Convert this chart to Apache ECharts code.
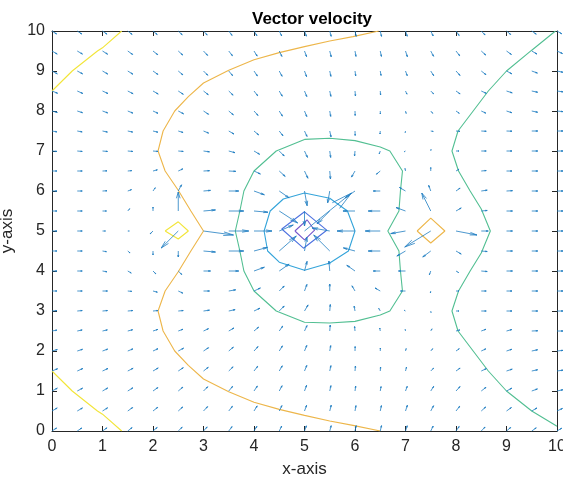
<!DOCTYPE html>
<html>
<head>
<meta charset="utf-8">
<script src="https://cdn.jsdelivr.net/npm/echarts@6/dist/echarts.min.js"></script>
<style>
  html, body { margin: 0; padding: 0; background: #fff; }
  #chart { width: 563px; height: 479px; }
</style>
</head>
<body>
<div id="chart"></div>
<script>
// grid positions (0:0.5:10 on both axes)
var gridX = [0,0.5,1,1.5,2,2.5,3,3.5,4,4.5,5,5.5,6,6.5,7,7.5,8,8.5,9,9.5,10];
var gridY = [0,0.5,1,1.5,2,2.5,3,3.5,4,4.5,5,5.5,6,6.5,7,7.5,8,8.5,9,9.5,10];
var tickVals = [0,1,2,3,4,5,6,7,8,9,10];

// arrow components as drawn (data units), one row per y value, bottom to top
var U = [
  [.091,.090,.089,.086,.083,.078,.073,.066,.058,.048,.037,.028,.023,.025,.034,.048,.063,.076,.083,.089,.094],
  [.103,.103,.101,.097,.094,.088,.081,.073,.063,.052,.041,.029,.019,.023,.037,.056,.073,.088,.097,.103,.108],
  [.105,.105,.103,.101,.097,.091,.084,.076,.067,.056,.041,.023,.014,.016,.034,.058,.080,.094,.105,.112,.116],
  [.110,.109,.108,.106,.103,.100,.094,.086,.073,.060,.045,.023,.009,.007,.020,.056,.081,.099,.113,.116,.118],
  [.105,.104,.102,.101,.099,.105,.100,.091,.080,.063,.045,.019,.003,.002,.013,.038,.065,.090,.104,.116,.118],
  [.097,.097,.096,.096,.094,.093,.099,.103,.091,.068,.050,.010,-.008,-.010,-.005,.025,.076,.093,.105,.119,.119],
  [.099,.099,.099,.099,.099,.099,.118,.126,.117,.098,.070,.011,-.017,-.030,-.026,.005,.059,.099,.109,.119,.119],
  [.099,.099,.099,.079,.086,.090,.119,.137,.126,.098,.048,0,-.059,-.103,-.099,-.007,.059,.099,.109,.119,.119],
  [.099,.099,.088,.069,.056,.070,.139,.198,.205,.195,.051,-.017,-.162,-.139,-.139,-.027,.051,.118,.119,.119,.119],
  [.099,.099,.078,.045,0,0,.237,.297,.267,.337,.048,-.317,-.230,-.238,-.171,-.158,.103,.118,.119,.119,.119],
  [.099,.099,.059,.030,-.056,-.337,.594,.396,.356,.277,.930,-.351,-.356,-.297,-.293,-.515,.416,.139,.119,.119,.119],
  [.099,.099,.079,.038,0,0,.237,.297,.276,.365,0,-.252,-.238,-.238,-.186,-.178,.103,.118,.119,.119,.119],
  [.099,.099,.089,.074,.045,.065,.138,.198,.205,.195,.052,-.041,-.195,-.139,-.120,-.041,.081,.118,.119,.119,.119],
  [.099,.099,.089,.079,.086,.090,.119,.139,.126,.117,.067,.014,-.069,-.076,-.009,0,.060,.099,.109,.119,.119],
  [.099,.099,.099,.099,.099,.099,.118,.124,.111,.098,.059,.018,-.009,-.020,-.026,.005,.059,.099,.109,.119,.119],
  [.097,.097,.097,.097,.096,.095,.101,.103,.091,.073,.050,.025,.003,-.005,-.005,.049,.079,.099,.109,.119,.119],
  [.105,.104,.102,.101,.099,.105,.100,.091,.080,.063,.045,.019,.003,.002,.013,.038,.065,.090,.104,.116,.118],
  [.110,.109,.108,.106,.103,.100,.094,.086,.073,.060,.045,.023,.009,.007,.029,.056,.081,.099,.113,.116,.118],
  [.105,.105,.103,.101,.097,.091,.084,.076,.067,.056,.041,.023,.014,.016,.034,.058,.080,.094,.105,.112,.116],
  [.103,.103,.101,.097,.094,.088,.081,.073,.063,.052,.041,.029,.019,.023,.037,.056,.073,.088,.097,.103,.108],
  [.091,.090,.089,.086,.083,.078,.073,.066,.058,.048,.037,.028,.023,.025,.034,.048,.063,.076,.083,.089,.094]
];
var V = [
  [.075,.075,.079,.085,.088,.095,.102,.110,.117,.124,.129,.133,.134,.134,.131,.124,.113,.099,.088,.079,.069],
  [.075,.075,.079,.086,.092,.100,.110,.118,.127,.135,.141,.146,.135,.135,.143,.132,.118,.100,.086,.075,.063],
  [.070,.070,.075,.079,.086,.096,.106,.115,.124,.132,.141,.134,.124,.111,.117,.117,.111,.092,.070,.051,.031],
  [.056,.061,.063,.068,.075,.082,.092,.104,.118,.130,.139,.134,.125,.100,.097,.071,.072,.058,.046,.031,.021],
  [.036,.042,.047,.052,.058,.070,.082,.096,.111,.127,.139,.135,.112,.075,.060,.057,.057,.053,.042,.031,.016],
  [.022,.026,.028,.032,.039,.043,.058,.075,.096,.123,.136,.149,.112,.074,.037,.054,.026,.043,.036,.006,0],
  [.011,.011,.011,.011,.011,.011,.021,.034,.069,.124,.152,.162,.123,.065,.019,-.037,0,0,0,0,0],
  [0,0,0,-.009,-.029,-.053,0,.030,.074,.124,.164,.175,.130,.075,0,-.049,0,0,0,0,0],
  [0,0,-.020,-.050,-.071,-.088,0,0,.094,.172,.241,.249,.143,0,0,-.094,-.038,-.013,0,0,0],
  [0,0,-.017,-.048,-.100,-.150,-.026,0,.091,.375,.345,.400,.078,0,-.125,-.150,-.075,-.013,0,0,0],
  [0,0,0,0,-.071,-.425,-.100,0,0,.150,.950,.077,0,0,-.065,-.400,-.100,0,0,0,0],
  [0,0,0,.057,.100,.475,.026,0,-.031,-.300,-.375,-.318,0,0,.086,.450,.075,.013,0,0,0],
  [0,0,.006,.034,.082,.155,.015,0,-.094,-.172,-.369,-.295,-.172,0,.088,.141,.072,.021,.008,0,0],
  [0,0,.004,.009,.029,.053,.008,-.009,-.074,-.134,-.181,-.199,-.152,-.080,.062,.088,.044,.011,0,0,0],
  [-.011,-.011,-.011,-.011,-.011,-.011,-.021,-.042,-.081,-.124,-.159,-.161,-.125,-.070,-.019,.037,0,0,0,0,0],
  [-.022,-.022,-.026,-.026,-.030,-.037,-.052,-.075,-.096,-.118,-.136,-.147,-.112,-.075,-.037,-.011,-.009,-.007,-.005,0,0],
  [-.036,-.042,-.047,-.052,-.058,-.070,-.082,-.096,-.111,-.127,-.139,-.135,-.112,-.075,-.060,-.057,-.057,-.053,-.042,-.031,-.016],
  [-.056,-.061,-.063,-.068,-.075,-.082,-.092,-.104,-.118,-.130,-.139,-.134,-.125,-.100,-.079,-.071,-.072,-.058,-.046,-.031,-.021],
  [-.070,-.070,-.075,-.079,-.086,-.096,-.106,-.115,-.124,-.132,-.141,-.134,-.124,-.111,-.117,-.117,-.111,-.092,-.070,-.051,-.031],
  [-.075,-.075,-.079,-.086,-.092,-.100,-.110,-.118,-.127,-.135,-.141,-.146,-.135,-.135,-.143,-.132,-.118,-.100,-.086,-.075,-.063],
  [-.075,-.075,-.079,-.085,-.088,-.095,-.102,-.110,-.117,-.124,-.129,-.133,-.134,-.134,-.131,-.124,-.113,-.099,-.088,-.079,-.069]
];

// contour lines
var yellowTop = [[0,8.5],[0.4,9.0],[0.5,9.1],[0.9,9.5],[1.0,9.58],[1.38,10]];
var yellowBottom = [[0,1.5],[0.4,1.0],[0.5,0.9],[0.9,0.5],[1.0,0.42],[1.38,0]];
var yellowLoop = [[2.24,5.0],[2.5,5.23],[2.7,5.0],[2.5,4.8],[2.24,5.0]];
var orangeCurve = [[6.47,10],[5.96,9.86],[5.5,9.75],[5.0,9.61],[4.5,9.46],[4.0,9.28],[3.5,9.02],[3.0,8.7],
  [2.7,8.36],[2.43,8.0],[2.2,7.5],[2.1,7.0],[2.24,6.5],[2.5,6.02],[2.75,5.5],[3.0,5.0],[2.75,4.5],[2.5,3.98],
  [2.24,3.5],[2.1,3.0],[2.2,2.5],[2.43,2.0],[2.7,1.64],[3.0,1.3],[3.5,0.98],[4.0,0.72],[4.5,0.54],[5.0,0.39],
  [5.5,0.25],[5.96,0.14],[6.5,0]];
var orangeLoop = [[7.23,5.0],[7.5,5.32],[7.78,5.0],[7.5,4.7],[7.23,5.0]];
var greenRight = [[9.97,10],[9.5,9.52],[9.0,9.0],[8.64,8.5],[8.34,8.0],[8.04,7.5],[7.92,7.0],[8.05,6.5],[8.28,6.0],
  [8.5,5.55],[8.68,5.0],[8.5,4.45],[8.28,4.0],[8.05,3.5],[7.92,3.0],[8.04,2.5],[8.34,2.0],[8.64,1.5],[9.0,1.0],
  [9.5,0.5],[10,0.12]];
var greenLoop = [[5.0,7.29],[5.5,7.32],[6.0,7.26],[6.5,7.1],[6.69,7.0],[6.94,6.5],[6.9,6.0],[6.87,5.5],[6.65,5.0],
  [6.87,4.5],[6.9,4.0],[6.94,3.5],[6.69,3.0],[6.5,2.9],[6.0,2.74],[5.5,2.7],[5.0,2.72],[4.44,3.0],[4.0,3.5],
  [3.8,4.0],[3.72,4.5],[3.63,5.0],[3.72,5.5],[3.8,6.0],[4.0,6.5],[4.44,7.0],[5.0,7.29]];
var cyanLoop = [[5.0,5.95],[5.5,5.82],[5.85,5.5],[6.0,5.0],[5.87,4.5],[5.5,4.2],[5.0,4.02],[4.5,4.22],[4.27,4.5],
  [4.2,5.0],[4.32,5.5],[4.58,5.8],[5.0,5.95]];
var blueLoop = [[5.0,5.48],[5.44,5.02],[4.98,4.57],[4.55,5.05],[5.0,5.48]];
var purpleLoop = [[4.81,5.0],[5.05,5.28],[5.2,5.02],[5.0,4.78],[4.81,5.0]];

var arrowData = [];
gridY.forEach(function (y, i) {
  gridX.forEach(function (x, j) {
    arrowData.push([x, y, U[i][j], V[i][j]]);
  });
});

var ink = '#262626';
var font = 'Liberation Sans, Arial, Helvetica, sans-serif';

function contour(data, color) {
  return {
    type: 'line', data: data, showSymbol: false, symbol: 'none', silent: true,
    lineStyle: { color: color, width: 1.1 }, z: 2, animation: false
  };
}

var chart = echarts.init(document.getElementById('chart'));
chart.setOption({
  backgroundColor: '#fff',
  animation: false,
  title: {
    text: 'Vector velocity', left: 307, top: 6, textAlign: 'center',
    textStyle: { fontFamily: font, fontSize: 17, fontWeight: 'bold', color: '#000' }
  },
  grid: { left: 52, right: 6, top: 31, bottom: 48, outerBoundsMode: 'none', containLabel: false },
  xAxis: [{
    type: 'value', min: 0, max: 10, interval: 1, position: 'bottom',
    name: 'x-axis', nameLocation: 'middle', nameGap: 30,
    nameTextStyle: { fontFamily: font, fontSize: 17, color: ink },
    axisLine: { onZero: false, lineStyle: { color: ink, width: 1 } },
    axisTick: { inside: true, length: 5, lineStyle: { color: ink } },
    axisLabel: { fontFamily: font, fontSize: 16, color: ink, margin: 8,
      formatter: function (v) { return tickVals.indexOf(v) >= 0 ? String(v) : ''; } },
    splitLine: { show: false }
  }, {
    type: 'value', min: 0, max: 10, interval: 1, position: 'top',
    axisLine: { onZero: false, lineStyle: { color: ink, width: 1 } },
    axisTick: { inside: true, length: 5, lineStyle: { color: ink } },
    axisLabel: { show: false }, splitLine: { show: false }
  }],
  yAxis: [{
    type: 'value', min: 0, max: 10, interval: 1, position: 'left',
    name: 'y-axis', nameLocation: 'middle', nameGap: 28, nameRotate: 90,
    nameTextStyle: { fontFamily: font, fontSize: 17, color: ink },
    axisLine: { show: true, onZero: false, lineStyle: { color: ink, width: 1 } },
    axisTick: { show: true, inside: true, length: 5, lineStyle: { color: ink } },
    axisLabel: { fontFamily: font, fontSize: 16, color: ink, margin: 7 },
    splitLine: { show: false }
  }, {
    type: 'value', min: 0, max: 10, interval: 1, position: 'right',
    axisLine: { show: true, onZero: false, lineStyle: { color: ink, width: 1 } },
    axisTick: { show: true, inside: true, length: 5, lineStyle: { color: ink } },
    axisLabel: { show: false }, splitLine: { show: false }
  }],
  series: [
    contour(yellowTop, '#F2E53A'),
    contour(yellowBottom, '#F2E53A'),
    contour(yellowLoop, '#F2E53A'),
    contour(orangeCurve, '#EDB64A'),
    contour(orangeLoop, '#EDB64A'),
    contour(greenRight, '#52BF92'),
    contour(greenLoop, '#52BF92'),
    contour(cyanLoop, '#34A4DA'),
    contour(blueLoop, '#4E72E0'),
    contour(purpleLoop, '#7556CC'),
    {
      type: 'custom', data: arrowData, z: 5, silent: true, clip: false,
      renderItem: function (params, api) {
        var x = api.value(0), y = api.value(1), u = api.value(2), v = api.value(3);
        var a = 0.33, b = 0.23;
        var p0 = api.coord([x, y]);
        var p1 = api.coord([x + u, y + v]);
        var h1 = api.coord([x + u - a * (u + b * v), y + v - a * (v - b * u)]);
        var h2 = api.coord([x + u - a * (u - b * v), y + v - a * (v + b * u)]);
        var st = { stroke: '#1F7DC2', lineWidth: 0.8, fill: null };
        return {
          type: 'group',
          children: [
            { type: 'polyline', shape: { points: [p0, p1] }, style: st },
            { type: 'polyline', shape: { points: [h1, p1, h2] }, style: st }
          ]
        };
      }
    }
  ]
});
</script>
</body>
</html>
